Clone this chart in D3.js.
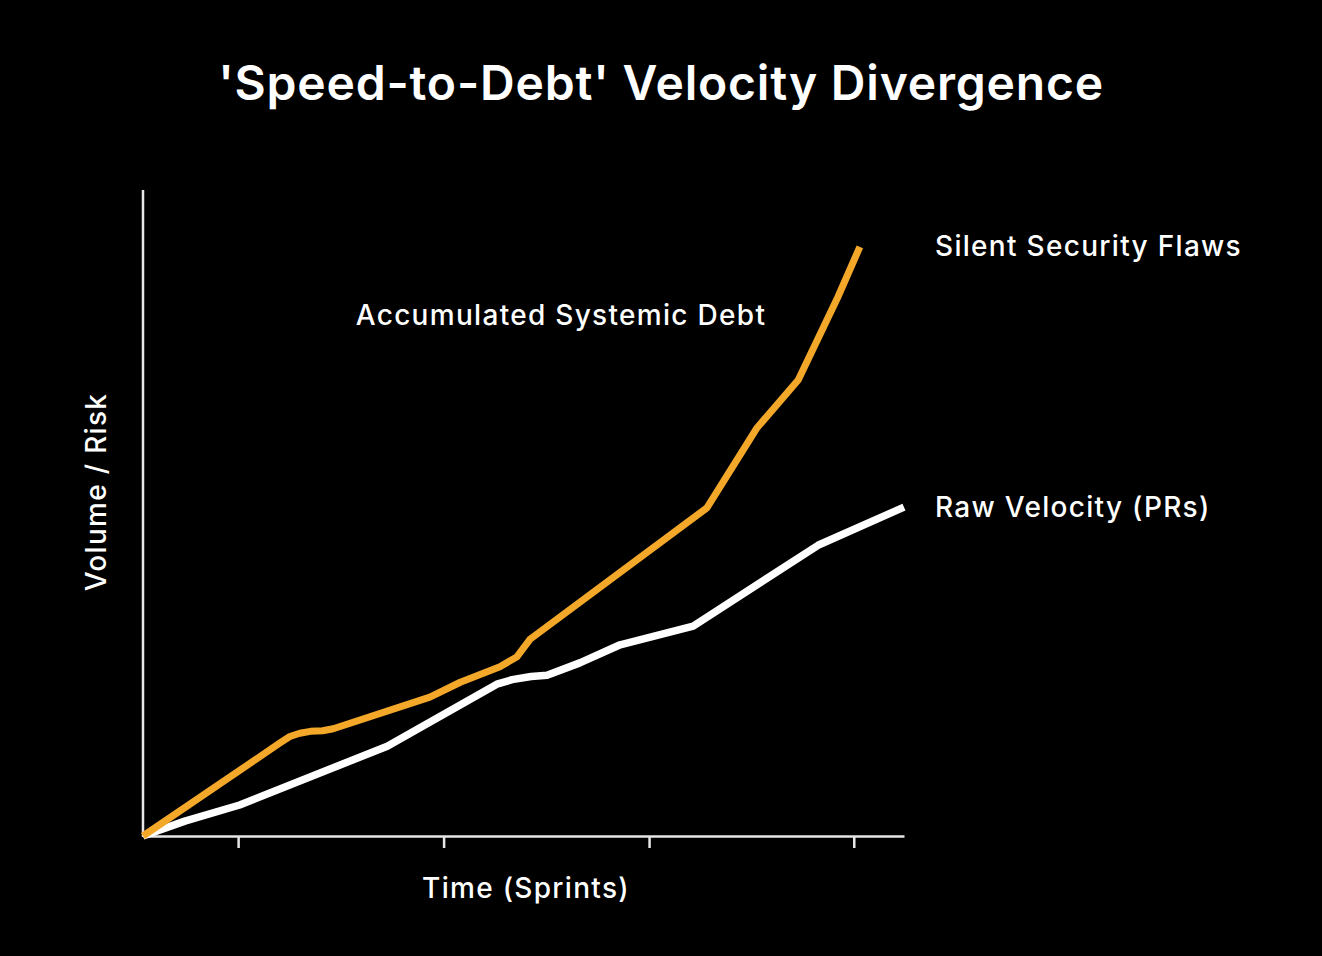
<!DOCTYPE html>
<html>
<head>
<meta charset="utf-8">
<script src="https://cdn.jsdelivr.net/npm/d3@7"></script>
<style>
  html, body { margin: 0; padding: 0; background: #000; }
  svg { display: block; }
  text { font-family: Inter, 'Noto Sans', sans-serif; fill: #fff; }
</style>
</head>
<body>
<div id="chart"></div>
<script>
// time runs 0..100 across the axis, volume/risk 0..100 up the axis
const velocityTime = [0, 5.5, 12.7, 32.1, 46.5, 48.5, 51.0, 53.1, 57.4, 62.7, 72.3, 88.7, 100];
const velocityValue = [0, 2.3, 4.8, 13.9, 23.5, 24.2, 24.7, 24.9, 26.8, 29.6, 32.5, 45.0, 50.9];

const debtTime = [0, 18.0, 19.3, 20.6, 22.0, 23.6, 25.0, 37.7, 41.7, 46.9, 49.1, 50.9, 74.1, 80.7, 86.1, 91.3, 94.2];
const debtValue = [0, 14.4, 15.4, 15.9, 16.2, 16.3, 16.6, 21.5, 23.8, 26.2, 27.7, 30.5, 50.8, 63.2, 70.6, 83.4, 91.2];

const tickTimes = [12.5, 39.5, 66.5, 93.4];

const size = { width: 1322, height: 956 };
const margin = { top: 190, right: 418, bottom: 120, left: 143 };

const svg = d3.select('#chart').append('svg')
  .attr('width', size.width)
  .attr('height', size.height);

svg.append('rect')
  .attr('width', size.width)
  .attr('height', size.height)
  .attr('fill', '#000');

const x = d3.scaleLinear()
  .domain([0, 100])
  .range([margin.left, size.width - margin.right]);

const y = d3.scaleLinear()
  .domain([0, 100])
  .range([size.height - margin.bottom, margin.top]);

const line = d3.line()
  .x((d) => x(d.t))
  .y((d) => y(d.v));

const velocity = velocityTime.map((t, i) => ({ t, v: velocityValue[i] }));
const debt = debtTime.map((t, i) => ({ t, v: debtValue[i] }));

// axes
const axisColor = '#e6e6e6';

svg.append('g')
  .attr('transform', `translate(0, ${y(0)})`)
  .call(d3.axisBottom(x).tickValues(tickTimes).tickSize(12).tickFormat('').tickSizeOuter(0))
  .call((g) => g.selectAll('line, path').attr('stroke', axisColor).attr('stroke-width', 2.5));

svg.append('line')
  .attr('x1', x(0))
  .attr('x2', x(0))
  .attr('y1', y(0) + 1)
  .attr('y2', y(100))
  .attr('stroke', axisColor)
  .attr('stroke-width', 2.5);

// series
svg.append('path')
  .attr('d', line(velocity))
  .attr('fill', 'none')
  .attr('stroke', '#ffffff')
  .attr('stroke-width', 7.5)
  .attr('stroke-linejoin', 'round');

svg.append('path')
  .attr('d', line(debt))
  .attr('fill', 'none')
  .attr('stroke', '#f4a82a')
  .attr('stroke-width', 7)
  .attr('stroke-linejoin', 'round');

// text
svg.append('text')
  .attr('x', size.width / 2)
  .attr('y', 100)
  .attr('text-anchor', 'middle')
  .attr('font-size', 48)
  .attr('font-weight', 600)
  .attr('letter-spacing', 0.8)
  .text("'Speed-to-Debt' Velocity Divergence");

const labels = [
  { text: 'Silent Security Flaws', x: 935, y: 256, anchor: 'start' },
  { text: 'Raw Velocity (PRs)', x: 935, y: 517, anchor: 'start' },
  { text: 'Accumulated Systemic Debt', x: 561, y: 325, anchor: 'middle' },
  { text: 'Time (Sprints)', x: 526, y: 898, anchor: 'middle' },
];

svg.selectAll('.label')
  .data(labels)
  .join('text')
  .attr('class', 'label')
  .attr('x', (d) => d.x)
  .attr('y', (d) => d.y)
  .attr('text-anchor', (d) => d.anchor)
  .attr('font-size', 28)
  .attr('font-weight', 500)
  .attr('letter-spacing', 1.3)
  .text((d) => d.text);

svg.append('text')
  .attr('transform', 'translate(106, 492) rotate(-90)')
  .attr('text-anchor', 'middle')
  .attr('font-size', 28)
  .attr('font-weight', 500)
  .attr('letter-spacing', 1.3)
  .text('Volume / Risk');
</script>
</body>
</html>
